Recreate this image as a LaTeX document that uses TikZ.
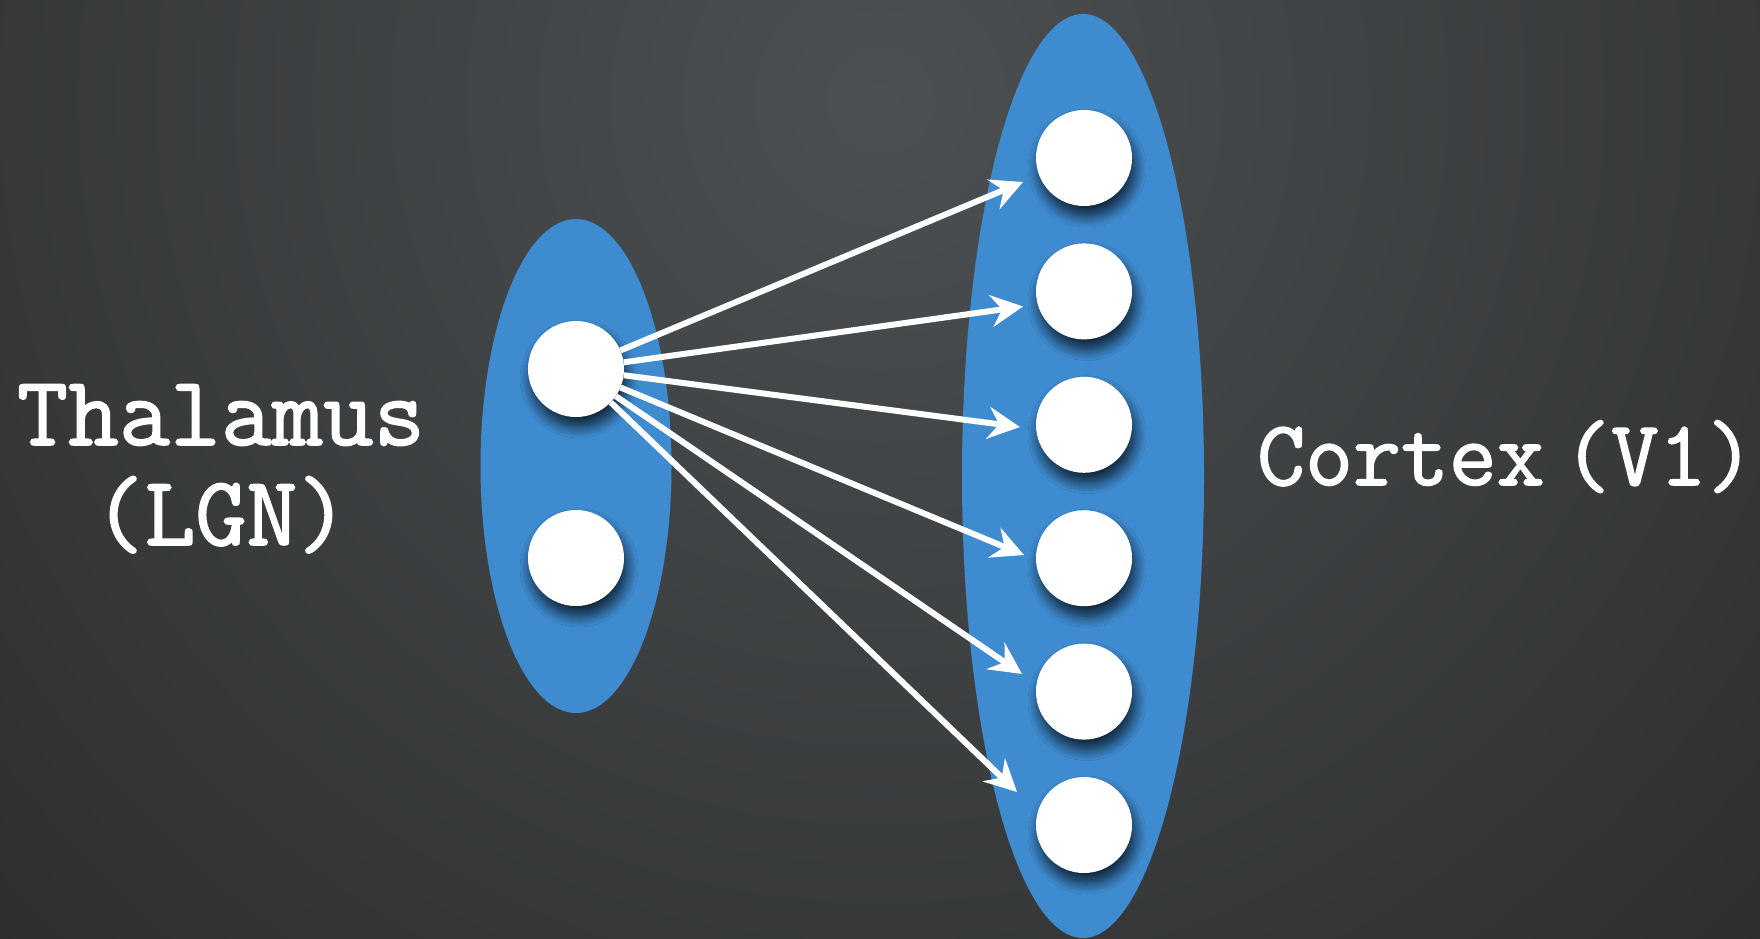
\documentclass[tikz,border=0pt]{standalone}
\usepackage{fontspec}
\usetikzlibrary{shapes.geometric,shadows.blur,arrows.meta}
\newfontfamily\twfont[FakeBold=1.6]{Latin Modern Mono}
\definecolor{bginner}{RGB}{76,80,82}
\definecolor{bgouter}{RGB}{30,30,31}
\definecolor{areablue}{RGB}{62,139,208}
\tikzset{
  area/.style={ellipse, fill=areablue, draw=none, inner sep=0pt},
  neuron/.style={circle, fill=white, draw=none, minimum size=96pt, inner sep=0pt,
    blur shadow={shadow xshift=3pt, shadow yshift=-10pt, shadow opacity=75, shadow blur radius=11pt, shadow blur steps=12}},
  conn/.style={white, line width=6pt, -{Stealth[length=32pt, width=32pt, inset=11pt]}},
  lbl/.style={text=white, font=\twfont\fontsize{99}{100}\selectfont, align=center, inner sep=0pt}
}
\begin{document}
\begin{tikzpicture}[x=1pt,y=-1pt]
  \useasboundingbox (0,0) rectangle (1760,938);
  \begin{scope}
    \clip (0,0) rectangle (1760,938);
    \shade[inner color=bginner, outer color=bgouter] (880-1800,100-1800) rectangle (880+1800,100+1800);
  \end{scope}
  % areas
  \node[area, minimum width=191pt, minimum height=494pt] (thal) at (576,466) {};
  \node[area, minimum width=242pt, minimum height=924pt] (ctx) at (1083,476) {};
  % neurons
  \node[neuron] (L1) at (576,369) {};
  \node[neuron] (L2) at (576,558) {};
  \node[neuron] (R1) at (1084,158) {};
  \node[neuron] (R2) at (1084,291.4) {};
  \node[neuron] (R3) at (1084,424.8) {};
  \node[neuron] (R4) at (1084,558.2) {};
  \node[neuron] (R5) at (1084,691.6) {};
  \node[neuron] (R6) at (1084,825) {};
  % arrow tips
  \coordinate (t1) at (1023,182);
  \coordinate (t2) at (1023,306.5);
  \coordinate (t3) at (1020,427);
  \coordinate (t4) at (1024,555);
  \coordinate (t5) at (1022,674);
  \coordinate (t6) at (1017,792);
  \foreach \i in {1,...,6} { \draw[conn] (L1) -- (t\i); }
  % labels
  \node[lbl, anchor=base] (thlabel) at (221,545) {Thalamus\\(LGN)};
  \node[lbl, anchor=base, font=\twfont\fontsize{93}{100}\selectfont] (ctxlabel) at (1506,485) {Cortex\hspace{0.2em}(V1)};
\end{tikzpicture}
\end{document}
